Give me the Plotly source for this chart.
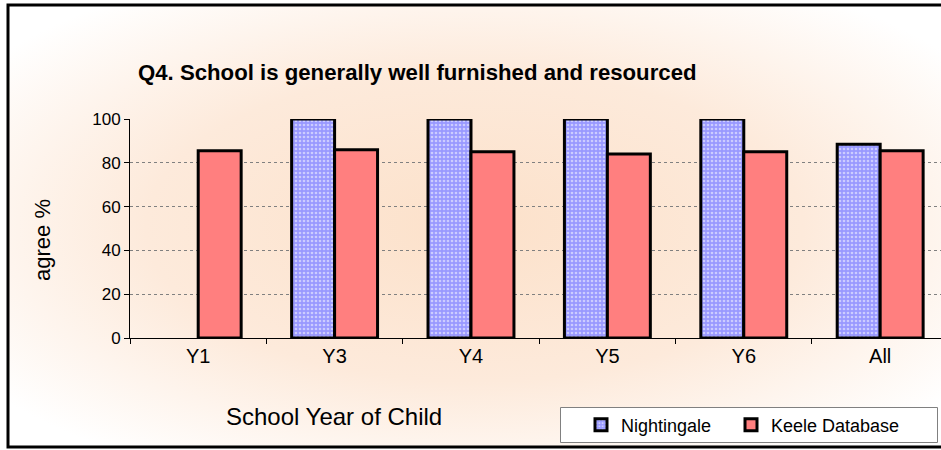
import base64
import plotly.graph_objects as go

categories = ["Y1", "Y3", "Y4", "Y5", "Y6", "All"]
nightingale = [None, 100, 100, 100, 100, 88.5]
keele = [85.5, 86, 85, 84, 85, 85.5]
series_names = ["Nightingale", "Keele Database"]
title_text = "Q4. School is generally well furnished and resourced"
x_title = "School Year of Child"
y_title = "agree %"

W, H = 941, 450
L, R, T, B = 130, 0, 119, 112
PW, PH = W - L - R, H - T - B


def px(x):
    return (x - L) / PW


def py(y):
    return (H - B - y) / PH


svg = (
    '<svg xmlns="http://www.w3.org/2000/svg" width="933" height="442" preserveAspectRatio="none">'
    '<defs><radialGradient id="g" cx="0.5" cy="0.5" r="0.64">'
    '<stop offset="0" stop-color="#FCE1CA"/>'
    '<stop offset="0.55" stop-color="#FDEADB"/>'
    '<stop offset="1" stop-color="#FFFFFF"/>'
    '</radialGradient></defs>'
    '<rect width="933" height="442" fill="url(#g)"/></svg>'
)
svg_uri = "data:image/svg+xml;base64," + base64.b64encode(svg.encode()).decode()

fig = go.Figure()
fig.add_trace(go.Bar(
    x=categories, y=nightingale, name=series_names[0], legend="legend",
    marker=dict(color="#9999FF",
                line=dict(color="black", width=3),
                pattern=dict(shape=".", fgcolor="white", bgcolor="#9999FF",
                             size=4, solidity=0.35)),
))
fig.add_trace(go.Bar(
    x=categories, y=keele, name=series_names[1], legend="legend2",
    marker=dict(color="#FF7F7F", line=dict(color="black", width=3)),
))

legend_common = dict(
    orientation="h", yanchor="middle", xanchor="left",
    bgcolor="rgba(0,0,0,0)", borderwidth=0,
    font=dict(size=18), itemwidth=30,
)

fig.update_layout(
    width=W, height=H,
    margin=dict(l=L, r=R, t=T, b=B, pad=0),
    paper_bgcolor="white",
    plot_bgcolor="white",
    barmode="group",
    bargap=0.37,
    bargroupgap=0,
    font=dict(family="Liberation Sans, Arial, sans-serif", color="black"),
    showlegend=True,
    legend=dict(x=px(581), y=py(425), **legend_common),
    legend2=dict(x=px(731), y=py(425), **legend_common),
    images=[dict(
        source=svg_uri, xref="paper", yref="paper",
        x=px(8), y=py(5), sizex=px(941) - px(8), sizey=py(5) - py(447),
        xanchor="left", yanchor="top", sizing="stretch", layer="below",
    )],
    shapes=[
        dict(type="rect", xref="paper", yref="paper",
             x0=px(8), y0=py(447), x1=px(960), y1=py(5),
             line=dict(color="black", width=3), fillcolor="rgba(0,0,0,0)"),
        dict(type="rect", xref="paper", yref="paper",
             x0=px(560.5), y0=py(442.5), x1=px(937.5), y1=py(407.5),
             line=dict(color="#808080", width=1), fillcolor="white", layer="below"),
    ],
    annotations=[
        dict(text="<b>" + title_text + "</b>", xref="paper", yref="paper",
             x=px(136), y=py(73), xanchor="left", yanchor="middle",
             showarrow=False, font=dict(size=22.2)),
        dict(text=x_title, xref="paper", yref="paper",
             x=px(334), y=py(416), xanchor="center", yanchor="middle",
             showarrow=False, font=dict(size=24)),
        dict(text=y_title, xref="paper", yref="paper",
             x=px(42), y=py(240), xanchor="center", yanchor="middle",
             showarrow=False, textangle=-90, font=dict(size=22)),
    ],
)

fig.update_xaxes(
    range=[-0.5, 5.446], showline=True, linecolor="black", linewidth=1,
    ticks="outside", tickson="boundaries", ticklen=5, tickcolor="black",
    tickfont=dict(size=20), showgrid=False, fixedrange=True,
)
fig.update_yaxes(
    range=[0, 100], dtick=20, showline=True, linecolor="black", linewidth=1,
    ticks="outside", ticklen=5, tickcolor="black", tickfont=dict(size=17),
    showgrid=True, gridcolor="#808080", gridwidth=1, griddash="dot",
    zeroline=False, fixedrange=True,
)

fig.write_html("out.html", config={"displayModeBar": False},
               post_script="document.body.style.margin='0px';")
